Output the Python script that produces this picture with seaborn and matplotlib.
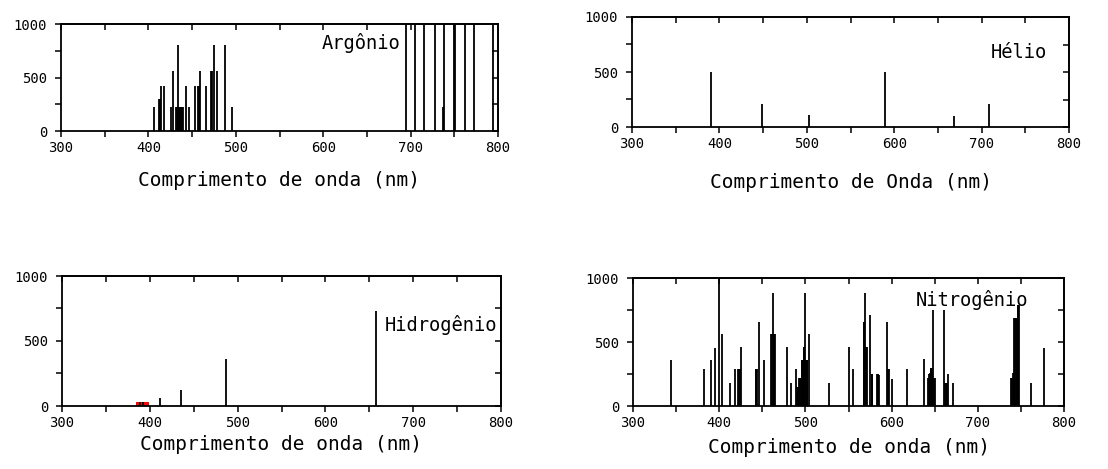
import matplotlib
matplotlib.use("Agg")
import matplotlib.pyplot as plt
import seaborn as sns
import numpy as np

# ---------------- data ----------------
ar_wl = [406.6, 412.0, 413.0, 414.3, 418.1, 425.8, 427.7,
         432.0, 433.0, 433.8, 434.5, 435.5, 436.5, 437.5, 438.5, 439.2,
         443.0, 446.9, 453.4, 456.4, 457.4, 458.4, 459.5, 465.6,
         471.8, 472.8, 474.8, 478.7, 487.1, 495.9,
         695.0, 705.5, 715.0, 728.0, 736.7, 738.7, 750.0, 751.2, 762.5, 772.5, 794.5]
ar_int = [220, 300, 300, 420, 420, 220, 560,
          220, 220, 800, 220, 220, 220, 220, 220, 220,
          420, 220, 420, 420, 420, 420, 560, 420,
          560, 560, 800, 560, 800, 220,
          1000, 1000, 1000, 1000, 220, 1000, 1000, 1000, 1000, 1000, 1000]

he_wl = [390.8, 448.9, 503.0, 589.3, 668.3, 708.4]
he_int = [500, 210, 105, 500, 100, 205]

h_wl = [388.4, 392.2, 411.2, 435.8, 487.0, 657.4]
h_int = [30, 30, 60, 120, 360, 730]
h_band = [384.6, 398.7]   # highlighted (red) band, wavelength range
h_band_int = [30]

n_wl = [344.6, 382.6, 390.5, 394.8, 400.0, 403.6, 412.0, 418.0, 421.9, 423.2, 424.0, 424.8,
        442.5, 443.2, 443.9, 445.6, 451.8,
        460.0, 461.0, 462.0, 463.0, 464.0, 465.0,
        478.8, 482.8, 489.0, 490.8, 491.6, 492.8, 493.6, 494.4, 495.6, 496.4, 497.2,
        498.0, 498.8, 500.0, 500.8, 501.6, 502.4, 504.4, 527.5,
        550.0, 554.7, 567.5, 568.3, 569.3, 570.2, 571.2, 575.5, 576.7, 577.7,
        583.2, 584.0, 585.4, 594.5, 595.5, 596.5, 600.7, 617.5, 637.6,
        642.3, 643.2, 644.2, 645.2, 646.2, 647.2, 648.5, 649.5, 650.5,
        661.3, 662.3, 663.3, 664.3, 665.3, 671.5,
        738.8, 739.8, 740.8, 741.6, 742.5, 743.4, 744.3, 745.2, 746.1, 747.0, 747.8,
        762.0, 776.6]
n_int = [360, 290, 360, 450, 1000, 560, 180, 290, 290, 290, 290, 460,
         290, 290, 290, 660, 360,
         560, 560, 880, 560, 560, 560,
         460, 180, 290, 150, 150, 220, 220, 220, 360, 360, 360,
         460, 460, 880, 360, 360, 360, 560, 180,
         460, 290, 660, 660, 880, 460, 460, 710, 250, 250,
         250, 250, 240, 660, 290, 290, 210, 290, 365,
         220, 250, 260, 300, 300, 300, 750, 220, 220,
         750, 180, 180, 180, 250, 180,
         215, 215, 256, 256, 690, 690, 690, 690, 790, 790, 790,
         180, 450]

x_ticks = [300, 400, 500, 600, 700, 800]
y_ticks = [0, 500, 1000]

panels = [
    # name, wl, int, axes rect, text pos, xlabel, xlabel y
    ("Argônio", ar_wl, ar_int, [61/1108, 1-131/469, 437/1108, 107/469], (0.776, 0.82),
     "Comprimento de onda (nm)", -0.458),
    ("Hélio", he_wl, he_int, [632/1108, 1-127/469, 437/1108, 110/469], (0.95, 0.68),
     "Comprimento de Onda (nm)", -0.509),
    ("Hidrogênio", h_wl, h_int, [62/1108, 1-406/469, 439/1108, 130/469], (0.992, 0.62),
     "Comprimento de onda (nm)", -0.30),
    ("Nitrogênio", n_wl, n_int, [633/1108, 1-406/469, 431/1108, 128/469], (0.916, 0.83),
     "Comprimento de onda (nm)", -0.328),
]

sns.set_theme(style="white")
plt.rcParams['font.family'] = ['DejaVu Sans Mono', 'DejaVu Sans']

fig = plt.figure(figsize=(11.08, 4.69), dpi=100)
fig.patch.set_facecolor("white")

for name, wl, inten, rect, tpos, xlab, xly in panels:
    ax = fig.add_axes(rect)
    ax.set_facecolor("white")
    if name == "Hidrogênio":
        ax.bar([(h_band[0] + h_band[1]) / 2], h_band_int, width=h_band[1] - h_band[0],
               color="#ff0000", edgecolor="none", zorder=1)
    ax.vlines(wl, 0, np.minimum(inten, 1000), color="black", linewidth=1.3, zorder=2)
    ax.set_xlim(300, 800)
    ax.set_ylim(0, 1000)
    ax.set_xticks(x_ticks)
    ax.set_xticks(np.arange(350, 800, 100), minor=True)
    ax.set_yticks(y_ticks)
    ax.set_yticks([250, 750], minor=True)
    ax.tick_params(which="both", direction="out", length=4, width=1.1, color="black",
                   labelsize=10, labelcolor="black", top=False, right=False,
                   bottom=True, left=True)
    ax.tick_params(axis="y", pad=6)
    ax.tick_params(axis="x", pad=3)
    for s in ax.spines.values():
        s.set_visible(True)
        s.set_color("black")
        s.set_linewidth(1.3)
    # mirrored inward ticks on top / right
    secx = ax.secondary_xaxis("top")
    secx.set_xticks(x_ticks)
    secx.set_xticks(np.arange(350, 800, 100), minor=True)
    secx.set_xticklabels([])
    secx.tick_params(which="both", direction="in", length=4, width=1.1, color="black")
    secx.spines["top"].set_linewidth(1.3)
    secy = ax.secondary_yaxis("right")
    secy.set_yticks(y_ticks)
    secy.set_yticks([250, 750], minor=True)
    secy.set_yticklabels([])
    secy.tick_params(which="both", direction="in", length=4, width=1.1, color="black")
    secy.spines["right"].set_linewidth(1.3)

    ax.text(tpos[0], tpos[1], name, transform=ax.transAxes, ha="right", va="center",
            fontsize=13.5, color="black", zorder=3)
    ax.set_xlabel(xlab, fontsize=14, color="black")
    ax.xaxis.set_label_coords(0.5, xly)
    ax.xaxis.label.set_va("center")
    ax.set_ylabel("")

fig.savefig("out.png", dpi=100, facecolor="white")
